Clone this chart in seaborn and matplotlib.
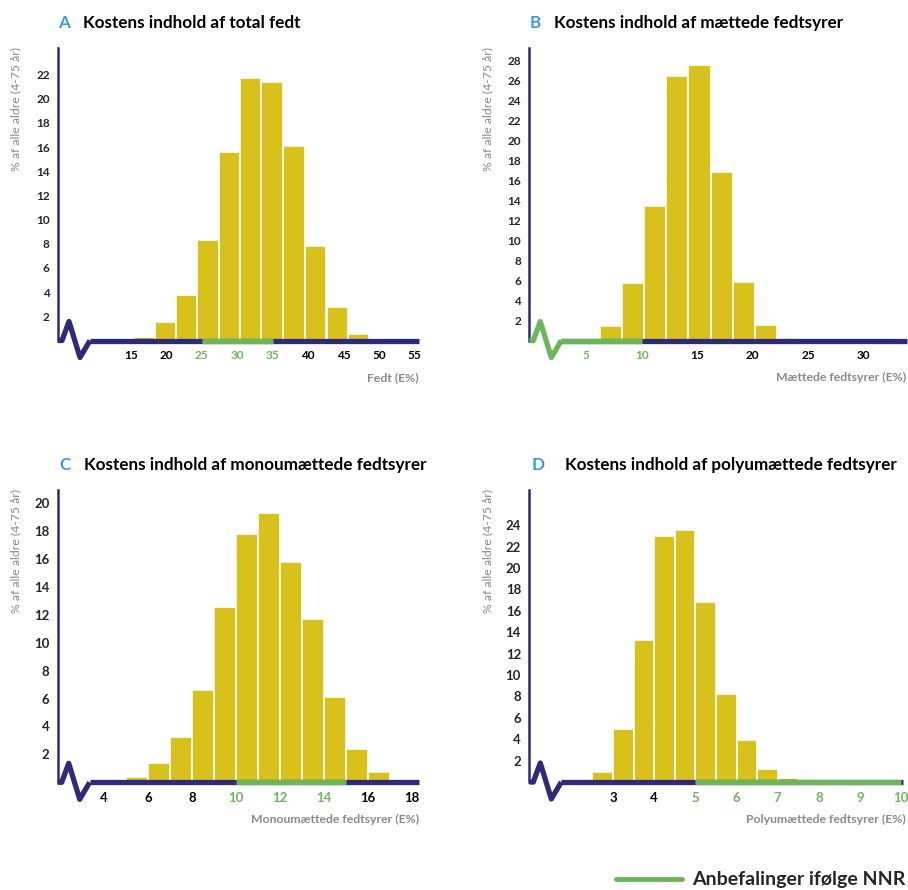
"""Kostens indhold af fedt - fire histogrammer (A-D) med NNR-anbefalinger."""

import matplotlib
import numpy as np
import seaborn as sns

matplotlib.use("Agg")
import matplotlib.pyplot as plt  # noqa: E402
import matplotlib.transforms as mtransforms  # noqa: E402
from matplotlib.lines import Line2D  # noqa: E402

sns.set_theme(style="white")
plt.rcParams["font.family"] = ["Lato", "DejaVu Sans"]

W, H, DPI = 908, 890, 100
NAVY, GREEN, YELLOW = "#302a7b", "#6db55a", "#d8c11a"
BLUE, GREY = "#3a9bdc", "#8a8a8a"

# A - total fedt
A_LEFT = [15.4, 18.4, 21.4, 24.4, 27.4, 30.4, 33.4, 36.5, 39.5, 42.6, 45.6]
A_PCT = [0.25, 1.5, 3.8, 8.35, 15.6, 21.7, 21.4, 16.1, 7.85, 2.8, 0.55]
A_XTICKS = [15, 20, 25, 30, 35, 40, 45, 50, 55]
A_GREEN_TICKS = [25, 30, 35]
A_YTICKS = [2, 4, 6, 8, 10, 12, 14, 16, 18, 20, 22]
A_REC = (25, 35)

# B - mættede fedtsyrer
B_LEFT = [4.2, 6.2, 8.2, 10.2, 12.2, 14.2, 16.2, 18.2, 20.2, 22.2]
B_PCT = [0.2, 1.45, 5.75, 13.5, 26.5, 27.6, 16.85, 5.9, 1.55, 0.3]
B_XTICKS = [5, 10, 15, 20, 25, 30]
B_GREEN_TICKS = [5, 10]
B_YTICKS = [2, 4, 6, 8, 10, 12, 14, 16, 18, 20, 22, 24, 26, 28]
B_REC = (None, 10)

# C - monoumættede fedtsyrer
C_LEFT = [5, 6, 7, 8, 9, 10, 11, 12, 13, 14, 15, 16]
C_PCT = [0.37, 1.35, 3.26, 6.6, 12.6, 17.83, 19.3, 15.77, 11.7, 6.1, 2.38, 0.75]
C_XTICKS = [4, 6, 8, 10, 12, 14, 16, 18]
C_GREEN_TICKS = [10, 12, 14]
C_YTICKS = [2, 4, 6, 8, 10, 12, 14, 16, 18, 20]
C_REC = (10, 15)

# D - polyumættede fedtsyrer
D_LEFT = [2.5, 3.0, 3.5, 4.0, 4.5, 5.0, 5.5, 6.0, 6.5, 7.0]
D_PCT = [0.9, 5.0, 13.3, 23.0, 23.6, 16.85, 8.25, 3.9, 1.25, 0.35]
D_XTICKS = [3, 4, 5, 6, 7, 8, 9, 10]
D_GREEN_TICKS = [5, 6, 7, 8, 9, 10]
D_YTICKS = [2, 4, 6, 8, 10, 12, 14, 16, 18, 20, 22, 24]
D_REC = (5, 10)

YLABEL = "% af alle aldre (4-75 år)"

fig = plt.figure(figsize=(W / DPI, H / DPI), dpi=DPI)


def fig_xy(x, y):
    return x / W, 1 - y / H


def panel(box, xlim, ylim, left, width, pct, xticks, green_ticks, yticks, rec,
          zig_green, letter, title, xlabel, letter_x, title_x, title_y, ylab_x,
          xlab_x, tick_size):
    """Et panel: box = (venstre, top, højre, basislinje) i pixels."""
    x0, top, x1, base = box
    ax = fig.add_axes([x0 / W, 1 - base / H, (x1 - x0) / W, (base - top) / H])
    centers = np.array(left) + width / 2
    sns.barplot(x=centers, y=pct, native_scale=True, width=1, color=YELLOW,
                saturation=1, edgecolor="white", linewidth=1.2, ax=ax, zorder=2)
    ax.set_xlim(*xlim)
    ax.set_ylim(*ylim)
    ax.set_xlabel("")
    ax.set_ylabel("")

    for s in ("top", "right", "bottom"):
        ax.spines[s].set_visible(False)
    ax.spines["left"].set_color(NAVY)
    ax.spines["left"].set_linewidth(1.8)

    ppu = (x1 - x0) / (xlim[1] - xlim[0])
    zig_end = xlim[0] + 32 / ppu
    line_kw = dict(lw=3.8, solid_capstyle="butt", clip_on=False)
    ax.plot([zig_end, xlim[1]], [0, 0], color=NAVY, zorder=3, **line_kw)
    g0 = zig_end if rec[0] is None else rec[0]
    ax.plot([g0, rec[1]], [0, 0], color=GREEN, zorder=4, **line_kw)

    # akse-brud (zigzag) ved origo
    tr = fig.dpi_scale_trans + mtransforms.ScaledTranslation(0, 0, ax.transAxes)
    zx = np.array([0, 4, 11, 22, 32]) / DPI
    zy = np.array([0, 0, 19, -17, 0]) / DPI
    ax.plot(zx, zy, transform=tr, color=GREEN if zig_green else NAVY, lw=3.8,
            solid_joinstyle="round", solid_capstyle="butt", clip_on=False, zorder=4)

    ax.set_xticks(xticks)
    ax.set_xticklabels([str(t) for t in xticks], fontweight="bold", fontsize=tick_size)
    for lbl, t in zip(ax.get_xticklabels(), xticks):
        lbl.set_color(GREEN if t in green_ticks else "black")
    ax.set_yticks(yticks)
    ax.set_yticklabels([str(t) for t in yticks], fontweight="bold", fontsize=tick_size)
    ax.tick_params(axis="both", length=0)
    ax.tick_params(axis="x", pad=7)
    ax.tick_params(axis="y", pad=6)

    fig.text(*fig_xy(letter_x, title_y), letter, color=BLUE, fontsize=12.3,
             fontweight="bold", va="center", ha="left")
    fig.text(*fig_xy(title_x, title_y), title, color="black", fontsize=12.3,
             fontweight="bold", va="center", ha="left")
    fig.text(*fig_xy(ylab_x, top - 1), YLABEL, color=GREY, fontsize=8.8,
             rotation=90, ha="center", va="top")
    fig.text(*fig_xy(xlab_x, base + 37), xlabel, color=GREY, fontsize=8.8,
             fontweight="bold", ha="right", va="center")
    return ax


panel((58, 48, 419, 340.5), (4.76, 55.6), (0, 24.2), A_LEFT, 3.0, A_PCT,
      A_XTICKS, A_GREEN_TICKS, A_YTICKS, A_REC, False,
      "A", "Kostens indhold af total fedt", "Fedt (E%)", 58, 83, 23, 15.7, 419, 8.5)
panel((529.3, 48, 907, 340.5), (-0.14, 33.9), (0, 29.3), B_LEFT, 2.0, B_PCT,
      B_XTICKS, B_GREEN_TICKS, B_YTICKS, B_REC, True,
      "B", "Kostens indhold af mættede fedtsyrer", "Mættede fedtsyrer (E%)",
      530, 554, 23, 487.3, 906.3, 8.5)
panel((57.7, 490, 419, 782.3), (1.9, 18.32), (0, 20.95), C_LEFT, 1.0, C_PCT,
      C_XTICKS, C_GREEN_TICKS, C_YTICKS, C_REC, False,
      "C", "Kostens indhold af monoumættede fedtsyrer",
      "Monoumættede fedtsyrer (E%)", 59, 84, 465, 15.7, 419, 9.5)
panel((529.3, 490, 903, 782), (0.97, 10.04), (0, 27.3), D_LEFT, 0.5, D_PCT,
      D_XTICKS, D_GREEN_TICKS, D_YTICKS, D_REC, False,
      "D", "Kostens indhold af polyumættede fedtsyrer",
      "Polyumættede fedtsyrer (E%)", 531.7, 565, 465, 487.3, 906, 9.5)

fig.legend(handles=[Line2D([], [], color=GREEN, lw=3.5)],
           labels=["Anbefalinger ifølge NNR"], loc="center left",
           bbox_to_anchor=fig_xy(615.7, 880), frameon=False, handlelength=3.4,
           handletextpad=0.55, borderpad=0, borderaxespad=0,
           prop={"weight": "bold", "size": 14})

fig.savefig("out.png", dpi=DPI)
